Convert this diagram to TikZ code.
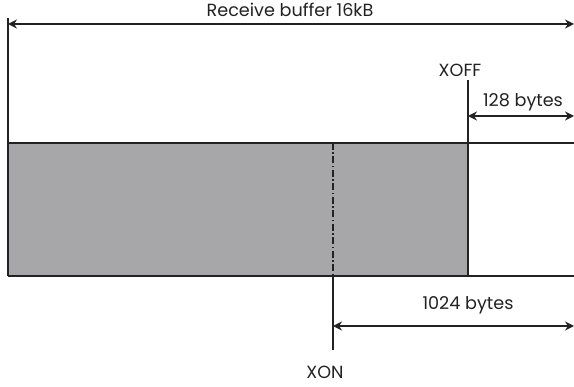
\documentclass[tikz,border=0pt]{standalone}
\usepackage{fontspec}
\setmainfont{Poppins}
\usetikzlibrary{arrows.meta}
\definecolor{buf}{HTML}{A7A7A9}
\definecolor{ink}{HTML}{222222}
\begin{document}
\begin{tikzpicture}[x=1pt,y=-1pt,
  thinline/.style={draw=ink,line width=1.2pt},
  thickline/.style={draw=ink,line width=2pt},
  dim/.style={draw=ink,line width=1.4pt,{Stealth[length=9pt,width=9pt,inset=3pt]}-{Stealth[length=9pt,width=9pt,inset=3pt]}},
  lbl/.style={font=\fontsize{17.6}{20}\selectfont,text=ink,inner sep=0pt}]
\useasboundingbox (0,0) rectangle (574,387);
% coordinates
\coordinate (tl) at (8,143);
\coordinate (br) at (468,276);
\coordinate (lefttop) at (8,18);
\coordinate (ra) at (8,24);
\coordinate (rb) at (574,24);
\coordinate (xofftop) at (468,80);
\coordinate (xoffbot) at (468,143);
\coordinate (ea) at (468,116);
\coordinate (eb) at (574,116);
\coordinate (topend) at (574,143);
\coordinate (botend) at (574,276);
\coordinate (xon1) at (333,143);
\coordinate (xon2) at (333,276);
\coordinate (xon3) at (333,350);
\coordinate (na) at (333,326);
\coordinate (nb) at (574,326);
% buffer
\fill[buf] (tl) rectangle (br);
\draw[thickline] (tl) -- (topend);
\draw[thickline] (8,276) -- (botend);
\draw[thickline] (tl) -- (8,276);
\draw[thickline] (xoffbot) -- (br);
\draw[thinline] (lefttop) -- (tl);
\draw[thinline] (xofftop) -- (xoffbot);
\draw[draw=ink,line width=1.2pt,dash pattern=on 7pt off 2.5pt on 1.5pt off 2.5pt] (xon1) -- (xon2);
\draw[thinline] (xon2) -- (xon3);
% dimensions
\draw[dim] (ra) -- (rb);
\draw[dim] (ea) -- (eb);
\draw[dim] (na) -- (nb);
% labels
\node[lbl] (title) at (290,10) {Receive buffer 16kB};
\node[lbl] (xoff) at (460,70) {XOFF};
\node[lbl] (b128) at (523,102) {128 bytes};
\node[lbl] (b1024) at (468,305) {1024 bytes};
\node[lbl,anchor=base] (xon) at (325,379) {XON};
\end{tikzpicture}
\end{document}
